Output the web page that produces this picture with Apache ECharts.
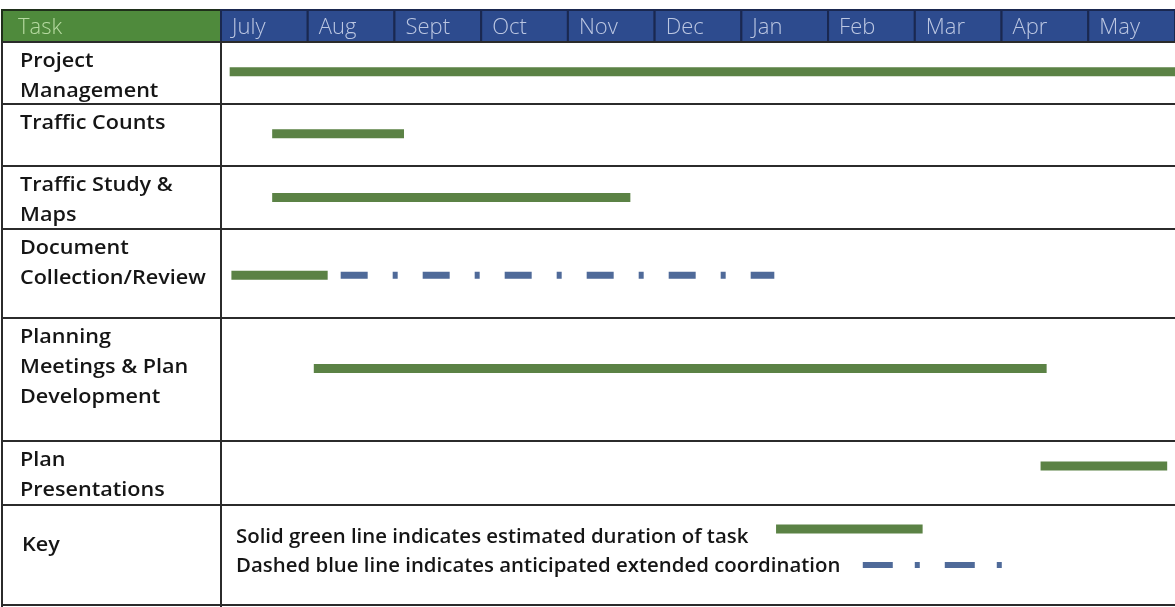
<!DOCTYPE html>
<html>
<head>
<meta charset="utf-8">
<style>
  html, body { margin: 0; padding: 0; background: #ffffff; }
  #chart { width: 1175px; height: 607px; }
</style>
<script src="https://cdn.jsdelivr.net/npm/echarts@6/dist/echarts.min.js"></script>
</head>
<body>
<div id="chart"></div>
<script>
// Schedule: month columns, month index 0 = start of July
const months = ['July', 'Aug', 'Sept', 'Oct', 'Nov', 'Dec', 'Jan', 'Feb', 'Mar', 'Apr', 'May'];

// Task rows (label lines)
const taskLabels = [
  ['Project', 'Management'],
  ['Traffic Counts'],
  ['Traffic Study &', 'Maps'],
  ['Document', 'Collection/Review'],
  ['Planning', 'Meetings & Plan', 'Development'],
  ['Plan', 'Presentations']
];

// Estimated duration of each task, [start, end] in months from July 1
const taskStart = [0.10, 0.59, 0.59, 0.12, 1.07, 9.45];
const taskEnd   = [11.0, 2.11, 4.72, 1.23, 9.52, 10.91];

// Anticipated extended coordination: [row, start, end]
const extendedRow   = [3];
const extendedStart = [1.38];
const extendedEnd   = [6.38];

// Key samples, in months
const keyText = ['Solid green line indicates estimated duration of task',
                 'Dashed blue line indicates anticipated extended coordination'];
const keySolid  = [6.40, 8.09];
const keyDashed = [7.40, 9.03];

// ---- layout (pixels) ----
const TABLE_LEFT = 2, TASK_COL_RIGHT = 221, HEADER_TOP = 10, HEADER_BOTTOM = 42;
const rowHeights = [62, 62, 63, 89, 123, 64];
const keyHeight = 102;
const barPos = [0.48, 0.48, 0.5, 0.52, 0.41, 0.39];   // bar position inside each row
const GREEN = '#5b8245', BLUE = '#4f6a99', LINE = '#2b2b2b';
const FONT = '"Open Sans", sans-serif';
const LABEL_FONT = '600 20px ' + FONT;
const HEAD_FONT = '300 22px ' + FONT;

const rowTops = [];
let acc = 0;
rowHeights.forEach(h => { rowTops.push(acc); acc += h; });
const keyTop = acc;
const totalHeight = keyTop + keyHeight;

const series = [];
taskStart.forEach((s, i) => {
  const y = rowTops[i] + rowHeights[i] * barPos[i];
  series.push({
    type: 'line', silent: true, symbol: 'none', animation: false,
    data: [[s, y], [taskEnd[i], y]],
    lineStyle: { color: GREEN, width: 9, cap: 'butt' }
  });
});
extendedRow.forEach((r, i) => {
  const y = rowTops[r] + rowHeights[r] * barPos[r];
  series.push({
    type: 'line', silent: true, symbol: 'none', animation: false,
    data: [[extendedStart[i], y], [extendedEnd[i], y]],
    lineStyle: { color: BLUE, width: 7, cap: 'butt', type: [27, 25, 5, 25] }
  });
});
const keyY1 = keyTop + 24, keyY2 = keyTop + 60;
series.push({
  type: 'line', silent: true, symbol: 'none', animation: false,
  data: [[keySolid[0], keyY1], [keySolid[1], keyY1]],
  lineStyle: { color: GREEN, width: 9, cap: 'butt' }
});
series.push({
  type: 'line', silent: true, symbol: 'none', animation: false,
  data: [[keyDashed[0], keyY2], [keyDashed[1], keyY2]],
  lineStyle: { color: BLUE, width: 6, cap: 'butt', type: [30, 22, 5, 25] }
});

const chart = echarts.init(document.getElementById('chart'), null, { renderer: 'canvas' });
chart.setOption({
  backgroundColor: '#ffffff',
  animation: false,
  grid: { left: TASK_COL_RIGHT, right: 0, top: HEADER_BOTTOM, height: totalHeight, containLabel: false },
  xAxis: { type: 'value', min: 0, max: months.length, show: false },
  yAxis: { type: 'value', min: 0, max: totalHeight, inverse: true, show: false },
  series: series
});

// Table frame, header cells and text, aligned to the month scale
const g = [];
const px = m => chart.convertToPixel({ gridIndex: 0 }, [m, 0])[0];
const py = v => chart.convertToPixel({ gridIndex: 0 }, [0, v])[1];
const W = 1175;

// header: Task cell
g.push({ type: 'rect', shape: { x: TABLE_LEFT, y: HEADER_TOP, width: TASK_COL_RIGHT - TABLE_LEFT, height: HEADER_BOTTOM - HEADER_TOP },
         style: { fill: '#4f8a3c', stroke: '#1f2f1a', lineWidth: 2 } });
g.push({ type: 'text', x: TABLE_LEFT + 16, y: (HEADER_TOP + HEADER_BOTTOM) / 2 + 2,
         style: { text: 'Task', fill: '#b7dba2', font: HEAD_FONT, verticalAlign: 'middle' } });
// header: month cells
months.forEach((m, i) => {
  const x0 = px(i), x1 = px(i + 1);
  g.push({ type: 'rect', shape: { x: x0, y: HEADER_TOP, width: x1 - x0, height: HEADER_BOTTOM - HEADER_TOP },
           style: { fill: '#2d4b8e', stroke: '#1a2850', lineWidth: 2 } });
  g.push({ type: 'text', x: x0 + 11, y: (HEADER_TOP + HEADER_BOTTOM) / 2 + 2,
           style: { text: m, fill: '#bcc7e2', font: HEAD_FONT, verticalAlign: 'middle' } });
});
// horizontal row lines
rowTops.concat([keyTop, totalHeight - 2]).forEach(v => {
  g.push({ type: 'line', shape: { x1: TABLE_LEFT, y1: py(v), x2: W, y2: py(v) },
           style: { stroke: LINE, lineWidth: 2 } });
});
// vertical lines
g.push({ type: 'line', shape: { x1: TABLE_LEFT, y1: HEADER_BOTTOM, x2: TABLE_LEFT, y2: py(totalHeight) }, style: { stroke: LINE, lineWidth: 2 } });
g.push({ type: 'line', shape: { x1: TASK_COL_RIGHT, y1: HEADER_BOTTOM, x2: TASK_COL_RIGHT, y2: py(totalHeight) }, style: { stroke: LINE, lineWidth: 2 } });
// task labels
taskLabels.forEach((lines, i) => {
  lines.forEach((t, j) => {
    g.push({ type: 'text', x: 20, y: py(rowTops[i]) + 19 + j * 30, scaleX: 1.08,
             style: { text: t, fill: '#151515', font: LABEL_FONT, verticalAlign: 'middle' } });
  });
});
// key row
g.push({ type: 'text', x: 22, y: py(keyTop) + 40, scaleX: 1.08,
         style: { text: 'Key', fill: '#151515', font: LABEL_FONT, verticalAlign: 'middle' } });
g.push({ type: 'text', x: 236, y: py(keyY1) + 8, scaleX: 1.02,
         style: { text: keyText[0], fill: '#151515', font: LABEL_FONT, verticalAlign: 'middle' } });
g.push({ type: 'text', x: 236, y: py(keyY2) + 1, scaleX: 1.02,
         style: { text: keyText[1], fill: '#151515', font: LABEL_FONT, verticalAlign: 'middle' } });

chart.setOption({ graphic: { elements: g } });
</script>
</body>
</html>
